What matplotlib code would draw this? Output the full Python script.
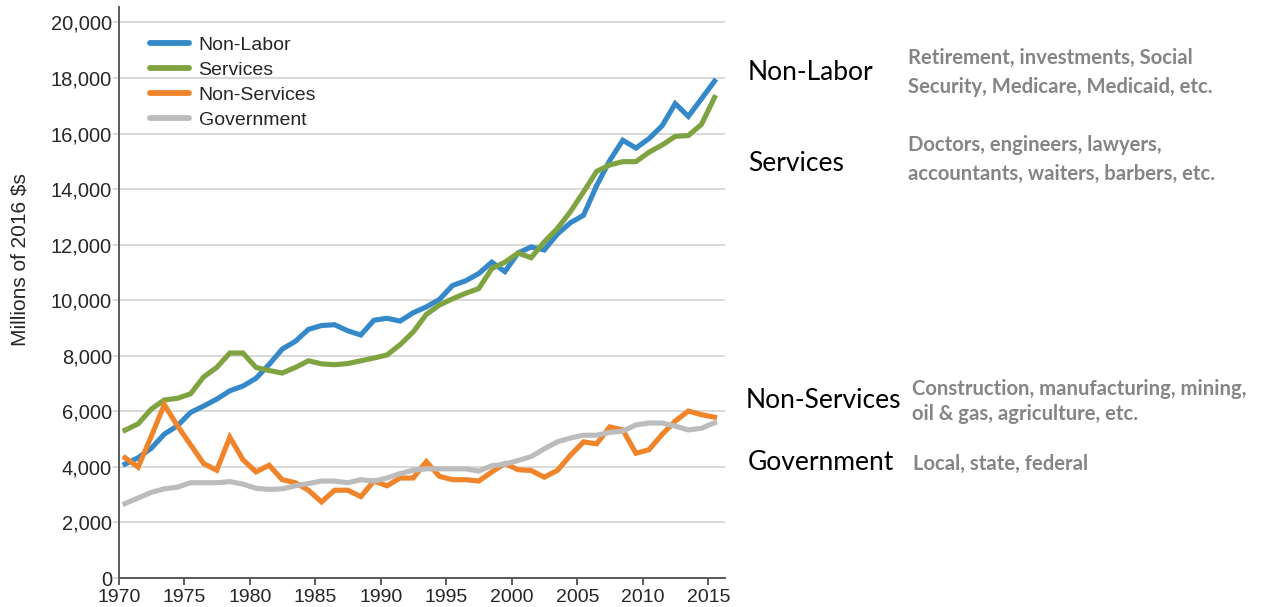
import matplotlib
matplotlib.use("Agg")
import matplotlib.pyplot as plt
from matplotlib.ticker import FuncFormatter

years = list(range(1970, 2016))

non_labor = [4100, 4330, 4670, 5180, 5480, 5960, 6190, 6440, 6740, 6910,
             7190, 7690, 8240, 8520, 8950, 9090, 9120, 8900, 8750, 9280,
             9350, 9250, 9550, 9760, 10030, 10530, 10700, 10960, 11370, 11030,
             11700, 11920, 11810, 12380, 12790, 13060, 14125, 15030, 15760, 15480,
             15820, 16280, 17080, 16620, 17250, 17890]

services = [5320, 5550, 6080, 6410, 6470, 6630, 7240, 7580, 8100, 8100,
            7580, 7470, 7380, 7580, 7820, 7710, 7680, 7720, 7820, 7920,
            8030, 8400, 8860, 9490, 9830, 10050, 10250, 10420, 11140, 11370,
            11700, 11530, 12100, 12580, 13190, 13900, 14640, 14870, 14990, 14990,
            15330, 15590, 15900, 15930, 16330, 17300]

non_services = [4330, 3990, 5100, 6240, 5480, 4800, 4120, 3880, 5070, 4260,
                3820, 4060, 3540, 3430, 3160, 2740, 3160, 3160, 2930, 3490,
                3320, 3600, 3600, 4190, 3660, 3540, 3540, 3490, 3820, 4120,
                3900, 3870, 3630, 3870, 4420, 4900, 4830, 5440, 5330, 4490,
                4620, 5170, 5650, 6010, 5880, 5790]

government = [2680, 2880, 3080, 3210, 3270, 3430, 3430, 3430, 3470, 3380,
              3230, 3190, 3210, 3320, 3400, 3490, 3490, 3430, 3540, 3490,
              3600, 3760, 3880, 3930, 3930, 3930, 3930, 3850, 4040, 4100,
              4230, 4370, 4650, 4900, 5040, 5140, 5140, 5240, 5290, 5510,
              5580, 5580, 5470, 5330, 5390, 5590]

series_names = ["Non-Labor", "Services", "Non-Services", "Government"]
series_colors = ["#3589c9", "#80a342", "#f0842a", "#bcbcbc"]

tick_years = [1970, 1975, 1980, 1985, 1990, 1995, 2000, 2005, 2010, 2015]
y_ticks = list(range(0, 20001, 2000))

categories = ["Non-Labor", "Services", "Non-Services", "Government"]
descriptions = [
    ["Retirement, investments, Social", "Security, Medicare, Medicaid, etc."],
    ["Doctors, engineers, lawyers,", "accountants, waiters, barbers, etc."],
    ["Construction, manufacturing, mining,", "oil & gas, agriculture, etc."],
    ["Local, state, federal"],
]

W, H = 1265, 607
fig = plt.figure(figsize=(W / 100, H / 100), dpi=100)
fig.patch.set_facecolor("white")

ax = fig.add_axes([119 / W, 29 / H, 606 / W, 571 / H])

data = [non_labor, services, non_services, government]
for vals, name, col in zip(data, series_names, series_colors):
    ax.plot(years, vals, color=col, lw=3.7, label=name, solid_joinstyle="miter")

ax.set_xlim(1969.54, 2015.8)
ax.set_ylim(0, 20558)

ax.set_yticks(y_ticks)
ax.yaxis.set_major_formatter(FuncFormatter(lambda v, p: f"{int(v):,}"))
ax.set_xticks([y - 0.46 for y in tick_years])
ax.set_xticklabels([str(y) for y in tick_years])

ax.grid(axis="y", color="#d9d9d9", lw=1.4)
ax.set_axisbelow(True)
for s in ["top", "right"]:
    ax.spines[s].set_visible(False)
for s in ["left", "bottom"]:
    ax.spines[s].set_color("#595959")
    ax.spines[s].set_linewidth(1.4)

ax.tick_params(axis="y", length=4, color="#d9d9d9", width=1.4,
               labelsize=14.5, labelcolor="#262626", pad=1)
ax.tick_params(axis="x", length=5, color="#595959", width=1.4,
               labelsize=14, labelcolor="#262626", pad=3)
for lab in ax.get_xticklabels() + ax.get_yticklabels():
    lab.set_fontfamily("Liberation Sans")

ax.set_ylabel("Millions of 2016 $s", fontsize=15, family="Liberation Sans",
              color="#262626")
ax.yaxis.set_label_coords((30 - 119) / 606, (578 - 260) / 571)

leg = ax.legend(loc="upper left", bbox_to_anchor=(150 / W, 1 - 36 / H),
                bbox_transform=fig.transFigure, frameon=False,
                borderpad=0, borderaxespad=0, handlelength=2.0,
                handletextpad=0.5, labelspacing=0.38,
                prop={"family": "Liberation Sans", "size": 14})
for t in leg.get_texts():
    t.set_color("#262626")
for h in leg.get_lines():
    h.set_linewidth(4.2)
    h.set_solid_capstyle("round")

# right side annotations
cat_pos = [(748, 73), (748, 163), (746, 400), (748, 463)]
desc_pos = [(908, [58, 87]), (908, [145, 174]), (912, [389, 414]), (913, [464])]
for cat, (cx, cy) in zip(categories, cat_pos):
    fig.text(cx / W, 1 - cy / H, cat, fontsize=19, family="Lato",
             color="black", va="center", ha="left")
for lines, (dx, dys) in zip(descriptions, desc_pos):
    for line, dy in zip(lines, dys):
        fig.text(dx / W, 1 - dy / H, line, fontsize=14.6, family="Lato",
                 weight="bold", color="#858585", va="center", ha="left")

fig.savefig("out.png", dpi=100)
